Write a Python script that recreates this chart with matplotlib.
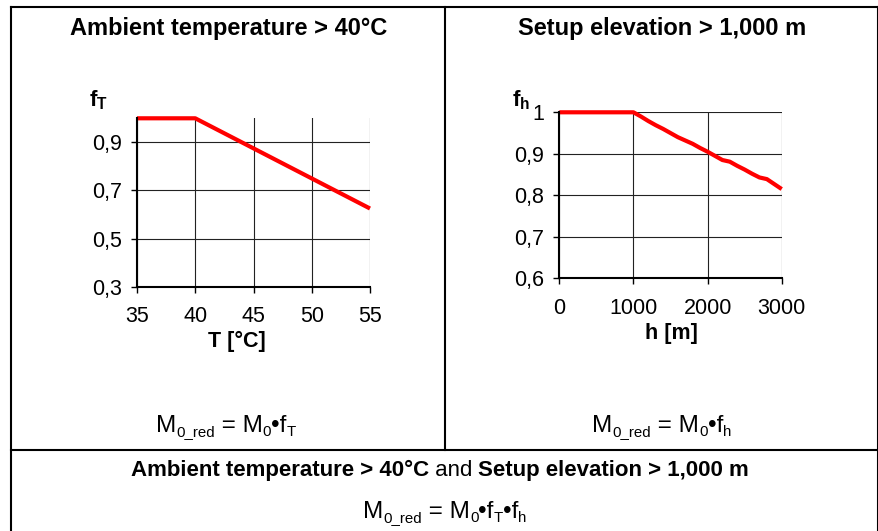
import matplotlib
matplotlib.use('Agg')
import matplotlib.pyplot as plt
from matplotlib.lines import Line2D

plt.rcParams['font.family'] = ['Liberation Sans', 'DejaVu Sans']

# data
temp = [35, 40, 45, 50, 55]
f_temp = [1.0, 1.0, 0.875, 0.75, 0.625]
temp_yticks = [0.3, 0.5, 0.7, 0.9]
temp_ylabels = ['0,3', '0,5', '0,7', '0,9']

height = [0, 1000, 1100, 1200, 1300, 1400, 1500, 1600, 1700, 1800, 1900,
          2000, 2100, 2200, 2300, 2400, 2500, 2600, 2700, 2800, 2900, 3000]
f_height = [1.0, 1.0, 0.99, 0.979, 0.969, 0.960, 0.950, 0.940, 0.932, 0.924, 0.914,
            0.905, 0.895, 0.885, 0.881, 0.871, 0.862, 0.852, 0.843, 0.839, 0.827, 0.815]
height_yticks = [0.6, 0.7, 0.8, 0.9, 1.0]
height_ylabels = ['0,6', '0,7', '0,8', '0,9', '1']

W, H = 879, 531
fig = plt.figure(figsize=(W / 100, H / 100), dpi=100)
renderer = fig.canvas.get_renderer()


def px(x, y):
    return x / W, 1 - y / H


def style_axes(ax):
    ax.spines['top'].set_visible(False)
    ax.spines['right'].set_visible(False)
    ax.spines['left'].set_linewidth(1.5)
    ax.spines['bottom'].set_linewidth(1.5)
    ax.grid(True, color='#222222', linewidth=0.8)
    ax.set_axisbelow(True)
    ax.tick_params(direction='out', length=4, width=1, labelsize=15.5)
    ax.tick_params(axis='x', pad=10)
    ax.tick_params(axis='y', pad=7)


def rich_line(pieces, cx, base, size, family=None):
    # pieces: (text, bold, subscript) placed one after another, centred on cx
    texts = []
    x = 0.0
    for s, bold, sub in pieces:
        fs = size * 0.62 if sub else size
        dy = 4.5 if sub else 0
        kw = {'family': family} if family else {}
        t = fig.text(0, 0, s, fontsize=fs, fontweight='bold' if bold else 'normal',
                     ha='left', va='baseline', **kw)
        t.set_position(px(x, base + dy))
        w = t.get_window_extent(renderer).width
        texts.append((t, x, base + dy))
        x += w
    x0 = cx - x / 2
    for t, xx, yy in texts:
        t.set_position(px(x0 + xx, yy))


# left chart: ambient temperature
ax1 = fig.add_axes([137 / W, 1 - 286.7 / H, 233 / W, 168.4 / H])
ax1.plot(temp, f_temp, color='#ff0000', linewidth=3, clip_on=False, solid_capstyle='butt')
ax1.set_xlim(35, 55)
ax1.set_ylim(0.3, 1.0)
ax1.set_xticks(temp)
ax1.set_yticks(temp_yticks)
ax1.set_yticklabels(temp_ylabels)
style_axes(ax1)
ax1.set_xlabel('T [°C]', fontsize=15.5, fontweight='bold', va='center')
ax1.xaxis.set_label_coords(0.428, -0.325)
ax1.set_ylabel(r'$\mathregular{f_T}$', fontsize=16, fontweight='bold', rotation=0, ha='left', va='center')
ax1.yaxis.set_label_coords(-0.205, 1.109)

# right chart: setup elevation
ax2 = fig.add_axes([559.3 / W, 1 - 278.3 / H, 222.4 / W, 166 / H])
ax2.plot(height, f_height, color='#ff0000', linewidth=3, clip_on=False, solid_capstyle='butt')
ax2.set_xlim(0, 3000)
ax2.set_ylim(0.6, 1.0)
ax2.set_xticks([0, 1000, 2000, 3000])
ax2.set_yticks(height_yticks)
ax2.set_yticklabels(height_ylabels)
style_axes(ax2)
ax2.set_xlabel('h [m]', fontsize=15.5, fontweight='bold', va='center')
ax2.xaxis.set_label_coords(0.505, -0.33)
ax2.set_ylabel(r'$\mathregular{f_h}$', fontsize=16, fontweight='bold', rotation=0, ha='left', va='center')
ax2.yaxis.set_label_coords(-0.212, 1.074)

# table frame
lw = 1.5
for (x0, y0), (x1, y1) in [((10.5, 7), (878, 7)), ((10.5, 7), (10.5, 531)),
                           ((878, 7), (878, 531)), ((10.5, 449.5), (878, 449.5)),
                           ((445, 7), (445, 449.5))]:
    a, b = px(x0, y0)
    c, d = px(x1, y1)
    fig.add_artist(Line2D([a, c], [b, d], color='black', linewidth=lw))

# headings
fig.text(*px(229, 35), 'Ambient temperature > 40°C', fontsize=17, fontweight='bold',
         ha='center', va='baseline')
fig.text(*px(662, 35), 'Setup elevation > 1,000 m', fontsize=17, fontweight='bold',
         ha='center', va='baseline')

# formulas
narrow = ['Liberation Sans Narrow', 'Liberation Sans']
rich_line([('M', False, False), ('0_red', False, True), (' = M', False, False),
           ('0', False, True), ('•f', False, False), ('T', False, True)],
          226, 432, 17.5, narrow)
rich_line([('M', False, False), ('0_red', False, True), (' = M', False, False),
           ('0', False, True), ('•f', False, False), ('h', False, True)],
          662, 432, 17.5, narrow)

# bottom row
rich_line([('Ambient temperature > 40°C', True, False), (' and ', False, False),
           ('Setup elevation > 1,000 m', True, False)], 440, 476, 16)
rich_line([('M', False, False), ('0_red', False, True), (' = M', False, False),
           ('0', False, True), ('•f', False, False), ('T', False, True),
           ('•f', False, False), ('h', False, True)],
          445, 518, 17.5, narrow)

fig.savefig('out.png', dpi=100)
